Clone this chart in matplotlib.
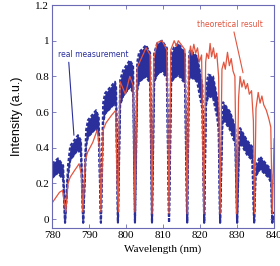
"""measured vs theoretical fringe spectrum"""

import matplotlib
matplotlib.use('Agg')
import matplotlib.pyplot as plt

# wavelength grid points (nm) of the measured band, dips included
blue_x = [780.0, 781.6, 783.0, 783.5,
          784.3, 784.9, 787.0, 787.8, 788.4,
          789.2, 789.7, 791.9, 792.6, 793.2,
          793.8, 794.3, 797.0, 797.3, 797.8,
          798.4, 799.2, 801.0, 801.9, 802.4,
          803.0, 803.5, 805.4, 806.5, 807.0,
          807.6, 808.4, 809.7, 811.0, 811.6,
          812.2, 813.0, 814.1, 815.9, 816.5,
          817.0, 817.3, 819.2, 820.0, 820.6, 821.1,
          821.6, 822.2, 823.5, 824.6, 825.0, 825.4,
          826.0, 826.2, 828.1, 829.5, 830.0,
          830.5, 830.8, 832.7, 834.1, 834.6,
          835.0, 836.2, 838.6, 839.2, 839.5, 840.0]
# upper edge of the noisy measured band
blue_top = [0.31, 0.34, 0.30, -0.02,
            0.30, 0.41, 0.47, 0.44, -0.02,
            0.50, 0.555, 0.61, 0.57, -0.02,
            0.65, 0.705, 0.77, 0.74, -0.02,
            0.78, 0.835, 0.89, 0.86, -0.02,
            0.88, 0.935, 0.975, 0.93, -0.02,
            0.93, 0.985, 1.00, 0.96, -0.02,
            0.93, 0.965, 0.985, 0.93, -0.02,
            0.92, 0.95, 0.91, 0.82, 0.75, -0.02,
            0.75, 0.81, 0.80, 0.68, 0.60, -0.02,
            0.60, 0.655, 0.60, 0.515, -0.02,
            0.45, 0.51, 0.44, 0.405, -0.02,
            0.30, 0.35, 0.29, 0.26, -0.02, 0.04]
# lower edge of the noisy measured band
blue_bot = [0.23, 0.26, 0.22, -0.02,
            0.24, 0.33, 0.39, 0.36, -0.02,
            0.41, 0.46, 0.51, 0.47, -0.02,
            0.54, 0.59, 0.65, 0.62, -0.02,
            0.64, 0.69, 0.74, 0.71, -0.02,
            0.72, 0.77, 0.80, 0.76, -0.02,
            0.77, 0.81, 0.83, 0.79, -0.02,
            0.77, 0.79, 0.81, 0.76, -0.02,
            0.78, 0.80, 0.77, 0.68, 0.62, -0.02,
            0.64, 0.69, 0.68, 0.57, 0.50, -0.02,
            0.51, 0.56, 0.50, 0.42, -0.02,
            0.38, 0.43, 0.36, 0.33, -0.02,
            0.24, 0.28, 0.23, 0.20, -0.02, 0.02]

# theoretical curve
red_x = [780.0, 781.0, 782.0, 782.8, 783.3, 783.7,
         784.3, 784.9, 786.0, 787.3, 787.9, 788.3,
         789.0, 789.6, 791.0, 792.2, 792.8, 793.2,
         793.8, 794.6, 796.0, 797.2, 797.6, 797.9,
         798.1, 798.4, 799.8, 801.0, 801.9, 802.4,
         803.0, 805.4, 806.5, 807.0,
         807.5, 808.4, 809.7, 811.0, 811.6,
         812.1, 813.0, 813.6, 814.1, 815.9, 816.5,
         817.0, 817.4, 817.8, 818.3, 818.8, 819.3, 819.8, 820.4, 821.0,
         821.5, 821.8, 822.3, 822.7, 823.1, 823.6, 824.0, 824.5, 825.0, 825.4,
         825.9, 826.4, 826.8, 827.4, 827.9, 828.4, 828.9, 829.4, 829.9,
         830.4, 830.8, 831.3, 831.8, 832.3, 832.8, 833.3, 833.9, 834.4, 834.7,
         835.1, 835.7, 836.2, 836.7, 837.2, 837.9, 838.6, 839.1, 839.5, 840.0]
red_y = [0.09, 0.12, 0.15, 0.16, 0.10, 0.04,
         0.20, 0.235, 0.27, 0.31, 0.25, 0.04,
         0.33, 0.375, 0.43, 0.50, 0.40, 0.04,
         0.50, 0.54, 0.58, 0.61, 0.20, 0.04,
         0.50, 0.77, 0.70, 0.80, 0.75, 0.04,
         0.85, 0.96, 0.92, 0.03,
         0.90, 0.99, 1.00, 0.95, 0.03,
         0.95, 1.00, 0.97, 1.00, 0.95, 0.03,
         0.90, 0.97, 0.92, 0.98, 0.93, 0.96, 0.88, 0.92, 0.03,
         0.88, 0.93, 0.90, 0.985, 0.91, 0.96, 0.90, 0.93, 0.80, 0.03,
         0.84, 0.88, 0.84, 0.935, 0.86, 0.90, 0.83, 0.80, 0.03,
         0.68, 0.80, 0.74, 0.78, 0.73, 0.76, 0.70, 0.72, 0.55, 0.03,
         0.62, 0.71, 0.65, 0.69, 0.64, 0.61, 0.56, 0.515, 0.03, 0.45]

x_ticks = [780, 790, 800, 810, 820, 830, 840]
y_ticks = [0, 0.2, 0.4, 0.6, 0.8, 1, 1.2]

BLUE = '#2a2f9c'
RED = '#e2553f'
FRAME = '#6a6ab4'

fig = plt.figure(figsize=(2.8, 2.66), dpi=100)
ax = fig.add_axes([0.186, 0.143, 0.793, 0.838])

ax.fill_between(blue_x, blue_bot, blue_top, color=BLUE, lw=0)
# the steep flanks of the measured data look dotted in the original
ax.plot(blue_x, blue_top, color=BLUE, lw=1.5, ls=(0, (1.6, 0.9)))
ax.plot(blue_x, blue_bot, color=BLUE, lw=1.5, ls=(0, (1.6, 0.9)))
ax.plot(red_x, red_y, color=RED, lw=0.9)

ax.annotate('real measurement', xy=(785.9, 0.47), xytext=(781.6, 0.92),
            color=BLUE, fontsize=5.5, family='Liberation Sans Narrow',
            va='center', ha='left',
            arrowprops=dict(arrowstyle='-', color=BLUE, lw=0.8,
                            shrinkA=0, shrinkB=0, relpos=(0.15, 0)))
ax.annotate('theoretical result', xy=(831.6, 0.82), xytext=(828.1, 1.09),
            color=RED, fontsize=5.5, family='Liberation Sans Narrow',
            va='center', ha='center',
            arrowprops=dict(arrowstyle='-', color=RED, lw=0.8,
                            shrinkA=0, shrinkB=0, relpos=(0.55, 0)))

ax.set_xlim(780, 840)
ax.set_ylim(-0.05, 1.2)
ax.set_xticks(x_ticks)
ax.set_yticks(y_ticks)
ax.set_yticklabels(['0', '0.2', '0.4', '0.6', '0.8', '1', '1.2'])
for lab in ax.get_xticklabels() + ax.get_yticklabels():
    lab.set_family('Liberation Serif')
    lab.set_fontsize(8)
ax.tick_params(direction='in', top=True, right=True, length=3,
               width=0.6, color=FRAME, pad=2)
for s in ax.spines.values():
    s.set_color(FRAME)
    s.set_linewidth(0.8)

ax.set_xlabel('Wavelength (nm)', family='Liberation Serif', fontsize=8, labelpad=3)
ax.set_ylabel('Intensity (a.u.)', family='Liberation Sans', fontsize=9, labelpad=9)

fig.savefig('out.png', dpi=100)
